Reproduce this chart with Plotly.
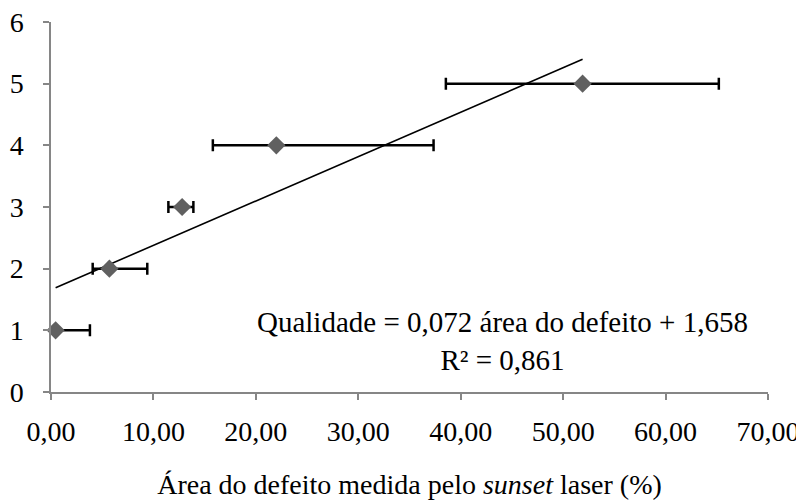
import plotly.graph_objects as go

# Data
area = [0.45, 5.7, 12.8, 22.0, 51.9]
qualidade = [1, 2, 3, 4, 5]
err_plus = [3.35, 3.7, 1.1, 15.35, 13.3]
err_minus = [0.0, 1.63, 1.34, 6.2, 13.35]
slope = 0.072
intercept = 1.658
x_ticks = [0, 10, 20, 30, 40, 50, 60, 70]
x_tick_labels = ["0,00", "10,00", "20,00", "30,00", "40,00", "50,00", "60,00", "70,00"]
y_ticks = [0, 1, 2, 3, 4, 5, 6]

FONT = "Liberation Serif"
FS = 28

x_line = [min(area), max(area)]
y_line = [slope * v + intercept for v in x_line]

fig = go.Figure()
fig.add_trace(go.Scatter(
    x=x_line, y=y_line, mode="lines",
    line=dict(color="black", width=1.6),
    showlegend=False, hoverinfo="skip", cliponaxis=False,
))
fig.add_trace(go.Scatter(
    x=area, y=qualidade, mode="markers",
    marker=dict(symbol="diamond", size=14, color="#606060"),
    error_x=dict(type="data", symmetric=False, array=err_plus, arrayminus=err_minus,
                 color="black", thickness=2.5, width=6),
    showlegend=False, cliponaxis=False,
))

fig.add_annotation(
    x=44.1, y=0.83, xref="x", yref="y",
    text="Qualidade = 0,072 área do defeito + 1,658<br>R² = 0,861",
    showarrow=False, align="center",
    font=dict(family=FONT, size=29, color="black"),
)

fig.update_layout(
    width=796, height=494,
    margin=dict(l=43, r=36, t=14, b=110),
    paper_bgcolor="white", plot_bgcolor="white",
    font=dict(family=FONT, size=FS, color="black"),
    xaxis=dict(
        range=[0, 70], tickvals=x_ticks, ticktext=x_tick_labels, automargin=False,
        showgrid=False, zeroline=False, showline=True, linecolor="#868686", linewidth=1.5,
        ticks="outside", ticklen=6, tickcolor="#868686", tickwidth=1.5,
        tickfont=dict(family=FONT, size=FS), ticklabelstandoff=8, ticklabeloverflow="allow",
        title=dict(text="Área do defeito medida pelo <i>sunset</i> laser (%)",
                   font=dict(family=FONT, size=FS), standoff=28),
    ),
    yaxis=dict(
        range=[0, 6], tickvals=y_ticks, automargin=False,
        showgrid=False, zeroline=False, showline=True, linecolor="#868686", linewidth=1.5,
        ticks="outside", ticklen=6, tickcolor="#868686", tickwidth=1.5,
        tickfont=dict(family=FONT, size=FS), ticklabelstandoff=14, ticklabeloverflow="allow",
    ),
)

fig.write_html("out.html")
